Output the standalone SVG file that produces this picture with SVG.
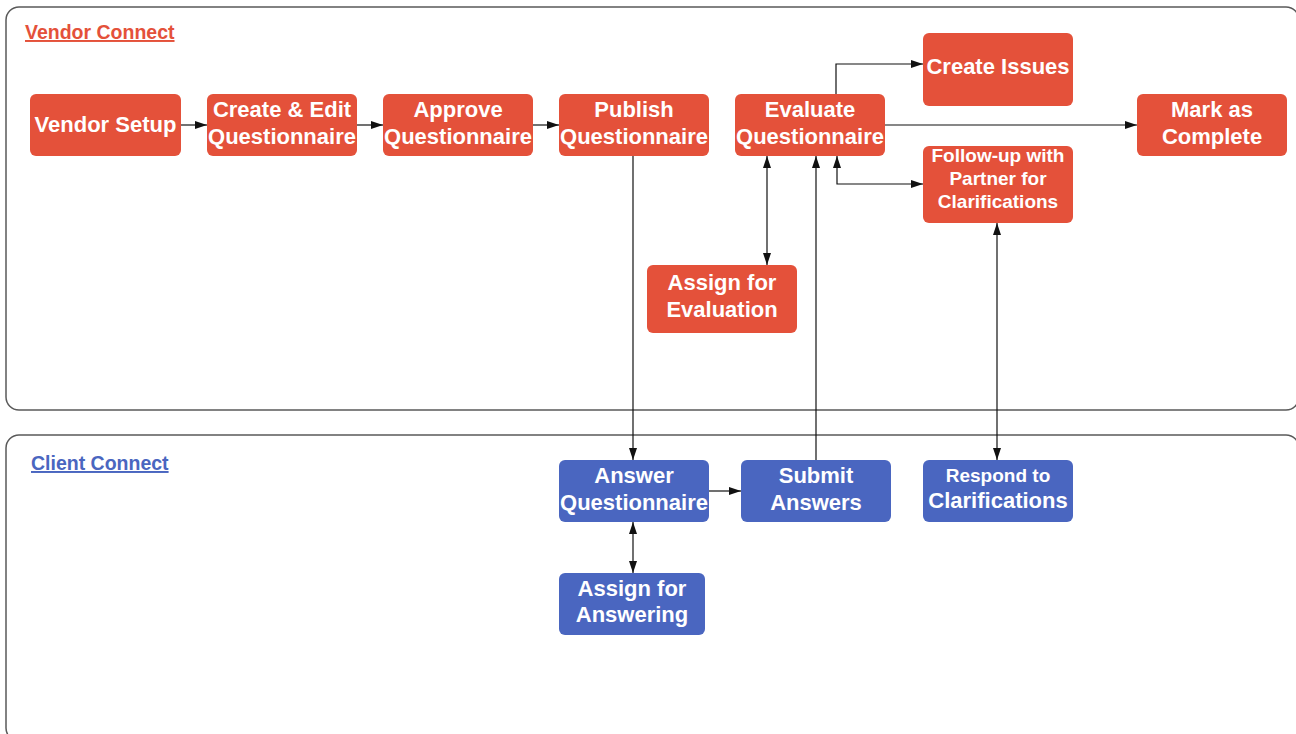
<svg xmlns="http://www.w3.org/2000/svg" width="1296" height="734" viewBox="0 0 1296 734">
<defs>
<style>
.lane{fill:#fff;stroke:#5a5a5a;stroke-width:1.5}
.r{fill:#E4513A}
.b{fill:#4A66C0}
.t{font-family:"Liberation Sans",Arial,sans-serif;font-weight:bold;fill:#fff;text-anchor:middle;font-size:22px}
.s{font-size:19px}
.title{font-family:"Liberation Sans",Arial,sans-serif;font-weight:bold;font-size:19.5px;text-decoration:underline}
.c{fill:none;stroke:#111;stroke-width:1.2}
</style>
<marker id="ah" viewBox="0 0 12 10" refX="12" refY="5" markerWidth="12" markerHeight="10" markerUnits="userSpaceOnUse" orient="auto-start-reverse">
<path d="M0,1 L12,5 L0,9 z" fill="#111"/>
</marker>
</defs>
<rect width="1296" height="734" fill="#fff"/>
<g id="lanes">
<rect class="lane" x="6" y="7" width="1293" height="403" rx="13"/>
<rect class="lane" x="6" y="435" width="1293" height="306" rx="13"/>
<text class="title" x="25" y="39" fill="#E4513A">Vendor Connect</text>
<text class="title" x="31" y="470" fill="#4A66C0">Client Connect</text>
</g>
<g id="connectors">
<path class="c" d="M181,125 H207" marker-end="url(#ah)"/>
<path class="c" d="M357,125 H383" marker-end="url(#ah)"/>
<path class="c" d="M533,125 H559" marker-end="url(#ah)"/>
<path class="c" d="M633,156 V460" marker-end="url(#ah)"/>
<path class="c" d="M836,94 V64 H923" marker-end="url(#ah)"/>
<path class="c" d="M885,125 H1137" marker-end="url(#ah)"/>
<path class="c" d="M837,156 V184 H923" marker-start="url(#ah)" marker-end="url(#ah)"/>
<path class="c" d="M767,156 V265" marker-start="url(#ah)" marker-end="url(#ah)"/>
<path class="c" d="M816,460 V156" marker-end="url(#ah)"/>
<path class="c" d="M997,223 V460" marker-start="url(#ah)" marker-end="url(#ah)"/>
<path class="c" d="M709,491 H741" marker-end="url(#ah)"/>
<path class="c" d="M633,522 V573" marker-start="url(#ah)" marker-end="url(#ah)"/>
</g>
<g id="vendor-setup"><rect class="r" x="30" y="94" width="151" height="62" rx="6"/><text class="t" x="105.5" y="132">Vendor Setup</text></g>
<g id="create-edit"><rect class="r" x="207" y="94" width="150" height="62" rx="6"/><text class="t" x="282" y="117">Create &amp; Edit</text><text class="t" x="282" y="144">Questionnaire</text></g>
<g id="approve"><rect class="r" x="383" y="94" width="150" height="62" rx="6"/><text class="t" x="458" y="117">Approve</text><text class="t" x="458" y="144">Questionnaire</text></g>
<g id="publish"><rect class="r" x="559" y="94" width="150" height="62" rx="6"/><text class="t" x="634" y="117">Publish</text><text class="t" x="634" y="144">Questionnaire</text></g>
<g id="evaluate"><rect class="r" x="735" y="94" width="150" height="62" rx="6"/><text class="t" x="810" y="117">Evaluate</text><text class="t" x="810" y="144">Questionnaire</text></g>
<g id="create-issues"><rect class="r" x="923" y="33" width="150" height="73" rx="6"/><text class="t" x="998" y="74">Create Issues</text></g>
<g id="mark-complete"><rect class="r" x="1137" y="94" width="150" height="62" rx="6"/><text class="t" x="1212" y="117">Mark as</text><text class="t" x="1212" y="144">Complete</text></g>
<g id="follow-up"><rect class="r" x="923" y="146" width="150" height="77" rx="6"/><text class="t s" x="998" y="162">Follow-up with</text><text class="t s" x="998" y="185">Partner for</text><text class="t s" x="998" y="208">Clarifications</text></g>
<g id="assign-evaluation"><rect class="r" x="647" y="265" width="150" height="68" rx="6"/><text class="t" x="722" y="290">Assign for</text><text class="t" x="722" y="317">Evaluation</text></g>
<g id="answer"><rect class="b" x="559" y="460" width="150" height="62" rx="6"/><text class="t" x="634" y="483">Answer</text><text class="t" x="634" y="510">Questionnaire</text></g>
<g id="submit"><rect class="b" x="741" y="460" width="150" height="62" rx="6"/><text class="t" x="816" y="483">Submit</text><text class="t" x="816" y="510">Answers</text></g>
<g id="respond"><rect class="b" x="923" y="460" width="150" height="62" rx="6"/><text class="t s" x="998" y="482">Respond to</text><text class="t" x="998" y="508">Clarifications</text></g>
<g id="assign-answering"><rect class="b" x="559" y="573" width="146" height="62" rx="6"/><text class="t" x="632" y="596">Assign for</text><text class="t" x="632" y="622">Answering</text></g>
</svg>
